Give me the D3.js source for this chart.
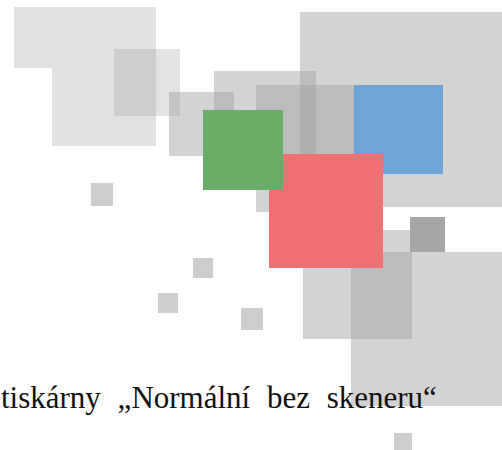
<!DOCTYPE html>
<html>
<head>
<meta charset="utf-8">
<script src="https://cdn.jsdelivr.net/npm/d3@7"></script>
<style>
  html, body { margin: 0; padding: 0; background: #fff; overflow: hidden; }
</style>
</head>
<body>
<div id="mosaic"></div>
<script>
// decorative square mosaic: [left, top, width, height] in picture units
var paleBlocks = [[14, 7, 142, 61], [52, 7, 104, 139]];
var veilBlocks = [[114, 49, 66, 67]];
var greyBlocks = [
  [169, 92, 65, 64], [214, 71, 102, 102], [300, 12, 212, 195],
  [256, 85, 127, 127], [303, 230, 109, 109], [351, 252, 160, 154]
];
var smallBlocks = [[91, 183, 22, 23], [193, 258, 20, 20], [158, 293, 20, 20], [241, 308, 22, 22], [394, 433, 18, 18]];
var darkBlocks = [[410, 217, 35, 35]];
var blueBlock = [[354, 85, 89, 89]];
var redBlock = [[269, 154, 114, 114]];
var greenBlock = [[203, 110, 80, 80]];
var captionText = "tiskárny „Normální bez skeneru“";

var width = 502, height = 450;

var svg = d3.select("#mosaic")
  .append("svg")
    .attr("width", width)
    .attr("height", height);

var x = d3.scaleLinear().domain([0, 502]).range([0, width]);
var y = d3.scaleLinear().domain([0, 450]).range([0, height]);

function drawBlocks(data, fill, opacity) {
  svg.append("g")
    .selectAll("rect")
    .data(data)
    .enter()
    .append("rect")
      .attr("x", function(d) { return x(d[0]); })
      .attr("y", function(d) { return y(d[1]); })
      .attr("width", function(d) { return x(d[0] + d[2]) - x(d[0]); })
      .attr("height", function(d) { return y(d[1] + d[3]) - y(d[1]); })
      .style("fill", fill)
      .style("fill-opacity", opacity);
}

drawBlocks(paleBlocks, "#e0e1e2", 1);
drawBlocks(veilBlocks, "#a2a2a4", 0.3);
drawBlocks(greyBlocks, "#a2a2a4", 0.47);
drawBlocks(smallBlocks, "#a2a2a4", 0.52);
drawBlocks(darkBlocks, "#a6a6a7", 1);
drawBlocks(blueBlock, "#6fa5d6", 1);
drawBlocks(redBlock, "#f07171", 1);
drawBlocks(greenBlock, "#69ae68", 1);

svg.append("text")
  .attr("x", x(1))
  .attr("y", y(408))
  .attr("font-family", "Liberation Serif, DejaVu Serif, serif")
  .attr("font-size", 31)
  .attr("fill", "#111")
  .style("word-spacing", "9px")
  .text(captionText);
</script>
</body>
</html>
